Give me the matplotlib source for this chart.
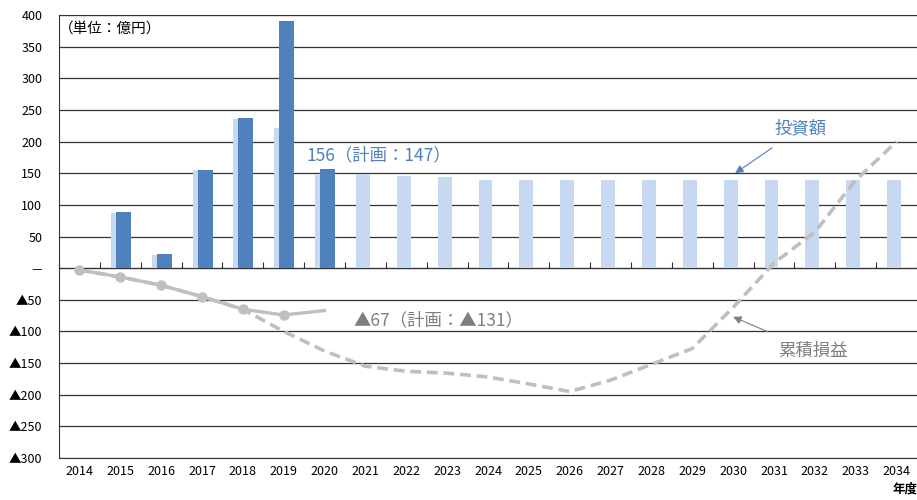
import matplotlib
matplotlib.use("Agg")
import matplotlib.pyplot as plt
import numpy as np

plt.rcParams["font.family"] = ["Noto Sans CJK JP", "DejaVu Sans"]

# ---- data (億円) ----
years = [str(y) for y in range(2014, 2035)]
invest_plan = [0, 87, 20, 155, 236, 222, 147, 149, 146, 144, 140, 140, 140,
               140, 140, 140, 140, 140, 140, 140, 140]
invest_actual = [0, 88, 22, 155, 237, 390, 156]          # 2014-2020
cum_actual = [-3, -14, -27, -45, -65, -74, -67]         # 2014-2020
cum_plan = [-3, -14, -27, -45, -65, -100, -131, -155, -163, -166, -172, -183,
            -195, -177, -152, -127, -62, 8, 57, 139, 200]
yticks = [400, 350, 300, 250, 200, 150, 100, 50, 0, -50, -100, -150, -200, -250, -300]
ytick_labels = ["400", "350", "300", "250", "200", "150", "100", "50", "－",
                "▲50", "▲100", "▲150", "▲200", "▲250", "▲300"]

BLUE, LIGHT, GRAY = "#4F81BD", "#C6D9F1", "#BFBFBF"

fig = plt.figure(figsize=(9.17, 5.0), dpi=100)
ax = fig.add_axes([59 / 917, 42 / 500, 1 - 59 / 917, 443 / 500])

x = np.arange(len(years))
xa = np.arange(len(invest_actual))
ax.bar(x - 0.06, invest_plan, width=0.34, color=LIGHT, zorder=2)
ax.bar(xa + 0.075, invest_actual, width=0.37, color=BLUE, zorder=3)

ax.plot(x, cum_plan, color=GRAY, lw=2.6, ls=(0, (3, 1.6)), zorder=4)
ax.plot(np.arange(len(cum_actual)), cum_actual, color=GRAY, lw=2.4, zorder=5,
        marker="o", ms=6.5, markevery=list(range(len(cum_actual) - 1)))

ax.set_xlim(-0.5, len(years) - 0.5)
ax.set_ylim(-300, 400)
ax.set_yticks(yticks)
ax.set_yticklabels(ytick_labels, fontsize=9)
ax.set_xticks(x)
ax.set_xticklabels(years, fontsize=9)
ax.tick_params(axis="y", length=0, pad=12)
ax.tick_params(axis="x", length=0, pad=5)
ax.grid(axis="y", color="#333333", lw=0.9, zorder=1)
ax.spines["right"].set_visible(False)
for s in ("left", "bottom", "top"):
    ax.spines[s].set_color("#333333")

# zero axis with tick marks between categories
sec = ax.secondary_xaxis(300 / 700)
sec.set_xticks(np.arange(len(years) + 1) - 0.5)
sec.set_xticklabels([])
sec.tick_params(direction="in", length=4, color="#333333")
sec.spines["bottom"].set_color("black")

ax.text(-0.5, 379, "（単位：億円）", fontsize=10.5, va="center", ha="left")
ax.text(5.55, 178, "156（計画：147）", fontsize=12.5, color=BLUE, va="center")
ax.text(6.7, -82, "▲67（計画：▲131）", fontsize=12.5, color="#7F7F7F", va="center")
ax.annotate("投資額", xy=(16.05, 150), xytext=(17.65, 221), fontsize=12.5,
            color=BLUE, ha="center", va="center",
            arrowprops=dict(arrowstyle="-|>", color=BLUE, lw=0.8,
                            shrinkA=10, shrinkB=0, mutation_scale=12))
ax.annotate("累積損益", xy=(16.0, -77), xytext=(17.95, -131), fontsize=12.5,
            color="#7F7F7F", ha="center", va="center",
            arrowprops=dict(arrowstyle="-|>", color="#7F7F7F", lw=0.8,
                            shrinkA=14, shrinkB=0, mutation_scale=12))
fig.text(893 / 917, 0.014, "年度", fontsize=9, fontweight="bold", ha="left")

fig.savefig("out.png", dpi=100)
